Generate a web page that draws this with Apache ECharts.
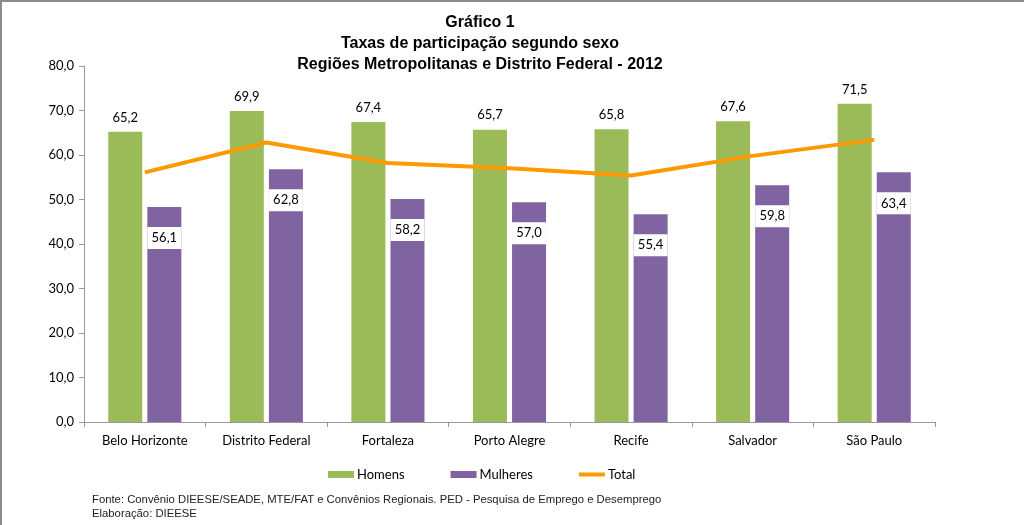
<!DOCTYPE html>
<html><head><meta charset="utf-8">
<script src="https://cdn.jsdelivr.net/npm/echarts@6/dist/echarts.min.js"></script>
<style>html,body{margin:0;padding:0;background:#fff}#c{width:1024px;height:525px;box-sizing:border-box;border:2px solid #8c8c8c;border-right:none;border-bottom:none}</style>
</head><body><div id="c"></div>
<script>
const categories = ['Belo Horizonte','Distrito Federal','Fortaleza','Porto Alegre','Recife','Salvador','São Paulo'];
const homens = [65.2, 69.9, 67.4, 65.7, 65.8, 67.6, 71.5];
const mulheres = [48.3, 56.8, 50.1, 49.4, 46.7, 53.2, 56.1];
const total = [56.1, 62.8, 58.2, 57.0, 55.4, 59.8, 63.4];
const yTicks = [0, 10, 20, 30, 40, 50, 60, 70, 80];

const fmt = v => v.toFixed(1).replace('.', ',');
const font = 'Lato, "Open Sans", sans-serif';
const chart = echarts.init(document.getElementById('c'));
chart.setOption({
  animation: false,
  title: {
    text: 'Gráfico 1\nTaxas de participação segundo sexo\nRegiões Metropolitanas e Distrito Federal - 2012',
    left: 473, top: 5, textAlign: 'center',
    textStyle: {fontFamily: 'Liberation Sans, Arial', fontWeight: 'bold', fontSize: 16, lineHeight: 21, color: '#000'}
  },
  legend: {
    top: 461, left: 321, itemGap: 46, itemWidth: 26, itemHeight: 7,
    textStyle: {fontFamily: font, fontSize: 13, color: '#000', padding: [0,0,0,-2]},
    data: [{name:'Homens', icon:'rect'}, {name:'Mulheres', icon:'rect'},
      {name:'Total', icon:'path://M0,0L0.01,0Z M0,1.6H26V5.4H0Z M0,7L0.01,7Z', itemStyle: {color: '#FF9900'}}]
  },
  grid: {left: 82, right: 89, top: 64, bottom: 103},
  xAxis: {
    type: 'category', data: categories,
    axisLine: {lineStyle: {color: '#999'}},
    axisTick: {show: true, length: 5, lineStyle: {color: '#999'}},
    axisLabel: {fontFamily: font, fontSize: 13, color: '#000', margin: 12}
  },
  yAxis: {
    type: 'value', min: 0, max: 80, interval: 10,
    splitLine: {show: false},
    axisLine: {show: true, lineStyle: {color: '#999'}},
    axisTick: {show: true, length: 5, lineStyle: {color: '#999'}},
    axisLabel: {fontFamily: font, fontSize: 13, color: '#000', margin: 10,
      formatter: v => yTicks.includes(v) ? fmt(v) : ''}
  },
  series: [
    {name: 'Homens', type: 'bar', data: homens, barWidth: 34, barGap: '15%',
      itemStyle: {color: '#9BBB59'},
      label: {show: true, position: 'top', distance: 8, fontFamily: font, fontSize: 13, color: '#000', formatter: p => fmt(p.value)}},
    {name: 'Mulheres', type: 'bar', data: mulheres, barWidth: 34,
      itemStyle: {color: '#8064A2'},
      label: {show: true, position: 'insideTop', distance: 20, fontFamily: font, fontSize: 13, color: '#000',
        backgroundColor: '#fff', width: 34, height: 22, lineHeight: 22, align: 'center',
        formatter: p => fmt(total[p.dataIndex])}},
    {name: 'Total', type: 'line', data: total, symbol: 'none', z: 5,
      lineStyle: {color: '#FF9900', width: 4}, itemStyle: {color: '#FF9900'}}
  ],
  graphic: [
    {type: 'text', left: 90, top: 491, style: {text: 'Fonte: Convênio DIEESE/SEADE, MTE/FAT e Convênios Regionais. PED - Pesquisa de Emprego e Desemprego\nElaboração: DIEESE', font: '11.3px "Liberation Sans", Arial', fill: '#222', lineHeight: 14}}
  ]
});
</script></body></html>
